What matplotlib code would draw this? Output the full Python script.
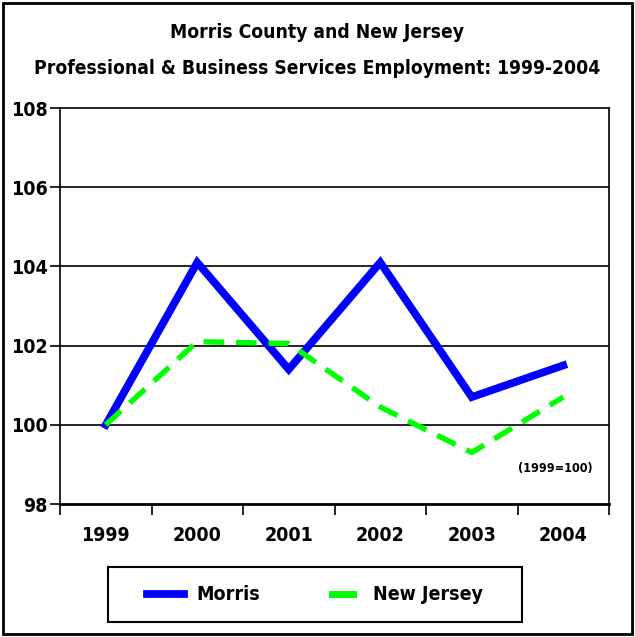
import matplotlib
matplotlib.use("Agg")
import numpy as np
import matplotlib.pyplot as plt
from matplotlib.patches import Rectangle
from matplotlib.lines import Line2D

plt.rcParams['font.family'] = ['DejaVu Sans']
plt.rcParams['font.stretch'] = 'condensed'
plt.rcParams['font.weight'] = 'bold'

years = ["1999", "2000", "2001", "2002", "2003", "2004"]
morris = [100.0, 104.1, 101.4, 104.1, 100.7, 101.5]
new_jersey = [100.0, 102.1, 102.05, 100.45, 99.3, 100.7]
y_ticks = [98, 100, 102, 104, 106, 108]

W, H = 635, 637
fig = plt.figure(figsize=(W/100, H/100), dpi=100)
fig.patches.append(Rectangle((0.004, 0.004), 0.992, 0.992, transform=fig.transFigure,
                             fill=False, edgecolor='black', linewidth=2))

ax = fig.add_axes([60/W, 1-504/H, (609-60)/W, (504-108)/H])
x = list(range(len(years)))
ax.plot(x, morris, color='#0000FF', linewidth=5.6, solid_joinstyle='miter', label='Morris')
ax.plot(x, new_jersey, color='#00FF00', linewidth=3.9, dashes=(3.8, 2.2), label='New Jersey')

ax.set_xlim(-0.5, len(years) - 0.5)
ax.set_ylim(98, 108)
ax.set_yticks(y_ticks)
ax.set_yticklabels([str(v) for v in y_ticks], fontsize=14)
ax.set_xticks(x)
ax.set_xticklabels(years, fontsize=14)
ax.set_xticks([i - 0.5 for i in range(len(years) + 1)], minor=True)
ax.tick_params(axis='x', which='major', length=0, pad=16)
ax.tick_params(axis='x', which='minor', length=8, width=1.2, direction='out')
ax.tick_params(axis='y', length=7, width=1.2, direction='out', pad=2)

for v in y_ticks[1:-1]:
    ax.axhline(v, color='black', linewidth=1.2, zorder=0.5)
for s in ['top', 'right', 'left']:
    ax.spines[s].set_linewidth(1.2)
ax.spines['bottom'].set_linewidth(2)

ax.text(0.97, 0.09, "(1999=100)", transform=ax.transAxes, ha='right', va='center', fontsize=9)

fig.text(0.5, 1-33/H, "Morris County and New Jersey", ha='center', va='center', fontsize=13.8)
fig.text(0.5, 1-68/H, "Professional & Business Services Employment: 1999-2004",
         ha='center', va='center', fontsize=13.8)

# legend frame
fig.patches.append(Rectangle((108/W, 1-622/H), (522-108)/W, (622-567)/H,
                             transform=fig.transFigure, fill=False,
                             edgecolor='black', linewidth=1.5))
handles = [Line2D([], [], color='#0000FF', linewidth=5.6),
           Line2D([], [], color='#00FF00', linewidth=5.0)]
leg = fig.legend(handles, ['Morris', 'New Jersey'], loc='center',
                 bbox_to_anchor=(315/W, 1-595/H), ncol=2, fontsize=14,
                 frameon=False, handlelength=1.9, columnspacing=3.3,
                 handletextpad=0.6, borderpad=0.0)
# shorten the New Jersey handle to a single dash
fig.canvas.draw()
h = leg.legend_handles[1]
xd = np.asarray(h.get_xdata(), dtype=float)
yd = np.asarray(h.get_ydata(), dtype=float)
mid = (xd.min() + xd.max()) / 2
half = (xd.max() - xd.min()) * 0.28
h.set_data(np.linspace(mid - half, mid + half, len(yd)), yd)

fig.savefig("out.png", dpi=100)
